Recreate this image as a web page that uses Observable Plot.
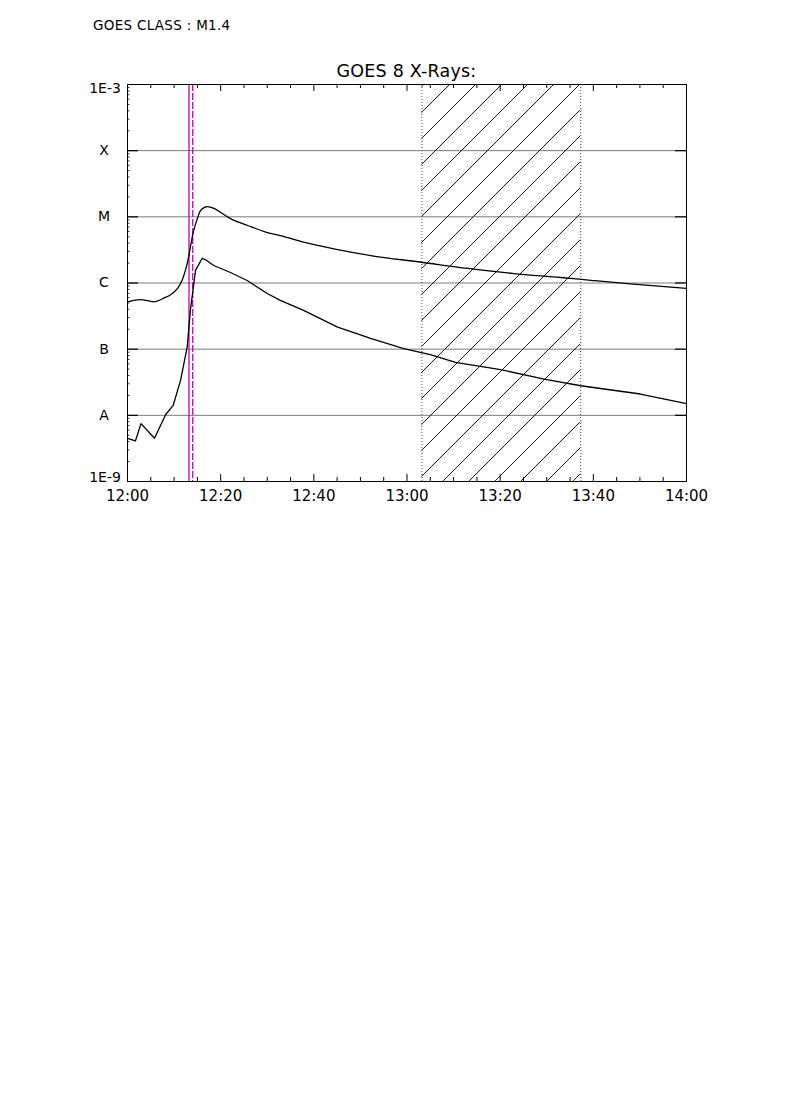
<!DOCTYPE html>
<html><head><meta charset="utf-8">
<script src="https://cdn.jsdelivr.net/npm/d3@7"></script>
<script src="https://cdn.jsdelivr.net/npm/@observablehq/plot@0.6"></script>
<style>
body{margin:0;background:#fff;width:790px;height:1118px;position:relative;font-family:"DejaVu Sans",sans-serif;color:#000;}
#cls{position:absolute;left:93px;top:18.5px;font-size:13.5px;letter-spacing:0.3px;line-height:1;white-space:nowrap;}
#title{position:absolute;left:127px;width:559px;top:62.5px;text-align:center;font-size:17.5px;letter-spacing:0.2px;line-height:1;}
#chart{position:absolute;left:0;top:0;}
</style></head><body>
<div id="chart"></div>
<div id="cls">GOES CLASS : M1.4</div>
<div id="title">GOES 8 X-Rays:</div>
<script>
// minutes after 12:00 UT
const upperT = [0, 2.8, 5.6, 8.0, 9.2, 10.7, 11.7, 12.8, 14.2, 15.0, 15.7, 17.1, 18.5, 22.1, 25.8, 30.7, 32.8, 37.8, 45.1, 52.2, 63.1, 73.0, 82.9, 93.0, 100.0, 107.3, 120];
const upperF = [5.2e-7, 5.6e-7, 5.2e-7, 6.0e-7, 6.6e-7, 8.2e-7, 1.09e-6, 1.95e-6, 6.2e-6, 9.4e-6, 1.25e-5, 1.43e-5, 1.34e-5, 9.4e-6, 7.4e-6, 5.6e-6, 5.2e-6, 4.14e-6, 3.2e-6, 2.6e-6, 2.06e-6, 1.66e-6, 1.39e-6, 1.21e-6, 1.09e-6, 9.8e-7, 8.3e-7];
const lowerT = [0, 1.7, 2.9, 5.8, 8.2, 9.8, 11.4, 12.8, 13.5, 14.6, 16.0, 16.7, 18.5, 22.1, 25.7, 30.0, 32.8, 37.8, 45.1, 52.2, 59.3, 65.0, 70.4, 80.1, 89.7, 97.3, 110.1, 120];
const lowerF = [4.5e-9, 4.1e-9, 7.5e-9, 4.5e-9, 1.03e-8, 1.41e-8, 3.4e-8, 1.06e-7, 3.85e-7, 1.55e-6, 2.35e-6, 2.26e-6, 1.84e-6, 1.44e-6, 1.09e-6, 6.95e-7, 5.45e-7, 3.85e-7, 2.15e-7, 1.45e-7, 1.02e-7, 8.3e-8, 6.3e-8, 4.9e-8, 3.5e-8, 2.8e-8, 2.1e-8, 1.5e-8];

const xMajor = [0, 20, 40, 60, 80, 100, 120];
const xLabels = ["12:00", "12:20", "12:40", "13:00", "13:20", "13:40", "14:00"];
const xMinor = d3.range(0, 121, 5).filter(d => d % 20 !== 0);

const yDecades = [1e-9, 1e-8, 1e-7, 1e-6, 1e-5, 1e-4, 1e-3];
const yLabels = ["1E-9", "A", "B", "C", "M", "X", "1E-3"];
const classLines = [1e-8, 1e-7, 1e-6, 1e-5, 1e-4];
const yMinor = [];
for (const dec of [1e-9, 1e-8, 1e-7, 1e-6, 1e-5, 1e-4]) for (let k = 2; k <= 9; k++) yMinor.push(dec * k);

const flareLines = [13.2];      // solid magenta
const flareMarks = [14.0];      // dashed magenta
const hatchStart = 63.2, hatchEnd = 97.3;

const upper = upperT.map((t, i) => ({t, f: upperF[i]}));
const lower = lowerT.map((t, i) => ({t, f: lowerF[i]}));

const W = 790, H = 520, mL = 127, mR = 104, mT = 84, mB = 39;
const pw = W - mL - mR, ph = H - mT - mB;

const svg = Plot.plot({
  width: W, height: H,
  marginLeft: mL, marginRight: mR, marginTop: mT, marginBottom: mB,
  style: {fontFamily: "DejaVu Sans, sans-serif", background: "white", color: "black"},
  x: {domain: [0, 120]},
  y: {type: "log", domain: [1e-9, 1e-3], axis: null},
  marks: [
    Plot.ruleY(classLines, {stroke: "#7a7a7a", strokeWidth: 1}),
    Plot.rect([{a: hatchStart, b: hatchEnd}], {x1: "a", x2: "b", fill: "url(#hatch)"}),
    Plot.ruleX([hatchStart, hatchEnd], {stroke: "#444", strokeDasharray: "1,2", strokeWidth: 1}),
    Plot.ruleX(flareLines, {stroke: "#c000c0", strokeWidth: 1.3}),
    Plot.ruleX(flareMarks, {stroke: "#c000c0", strokeWidth: 1.3, strokeDasharray: "7,2"}),
    Plot.line(upper, {x: "t", y: "f", stroke: "black", strokeWidth: 1.3, curve: "monotone-x"}),
    Plot.line(lower, {x: "t", y: "f", stroke: "black", strokeWidth: 1.3}),
    // x ticks (inward, bottom and top)
    Plot.ruleX(xMajor, {insetTop: ph - 7, stroke: "black"}),
    Plot.ruleX(xMajor, {insetBottom: ph - 7, stroke: "black"}),
    Plot.ruleX(xMinor, {insetTop: ph - 4, stroke: "black"}),
    Plot.ruleX(xMinor, {insetBottom: ph - 4, stroke: "black"}),
    // y ticks
    Plot.ruleY(classLines, {insetRight: pw - 11, stroke: "black", strokeWidth: 1.2}),
    Plot.ruleY(classLines, {insetLeft: pw - 11, stroke: "black", strokeWidth: 1.2}),
    Plot.ruleY(yMinor, {insetRight: pw - 2.5, stroke: "#333", strokeWidth: 1}),
    Plot.frame({stroke: "black", strokeWidth: 1}),
    Plot.axisX(xMajor, {tickSize: 0, tickPadding: 9, fontSize: 15, tickFormat: d => xLabels[xMajor.indexOf(d)]}),
    Plot.text(yDecades.slice(1, -1), {y: d => d, frameAnchor: "left", dx: -23.5, textAnchor: "middle", fontSize: 14, text: d => yLabels[yDecades.indexOf(d)]}),
    Plot.text([1e-3], {y: d => d, frameAnchor: "left", dx: -22.5, dy: 4.5, textAnchor: "middle", fontSize: 14, letterSpacing: 0.8, text: d => yLabels[yDecades.indexOf(d)]}),
    Plot.text([1e-9], {y: d => d, frameAnchor: "left", dx: -22.5, dy: -4, textAnchor: "middle", fontSize: 14, letterSpacing: 0.8, text: d => yLabels[yDecades.indexOf(d)]})
  ]
});

const ns = "http://www.w3.org/2000/svg";
const defs = document.createElementNS(ns, "defs");
defs.innerHTML = '<pattern id="hatch" patternUnits="userSpaceOnUse" x="14" y="0" width="26" height="26">' +
  '<path d="M-1,1 L1,-1 M0,26 L26,0 M25,27 L27,25" stroke="#000" stroke-width="0.9" fill="none"/></pattern>';
svg.insertBefore(defs, svg.firstChild);
document.getElementById("chart").appendChild(svg);
</script>
</body></html>
